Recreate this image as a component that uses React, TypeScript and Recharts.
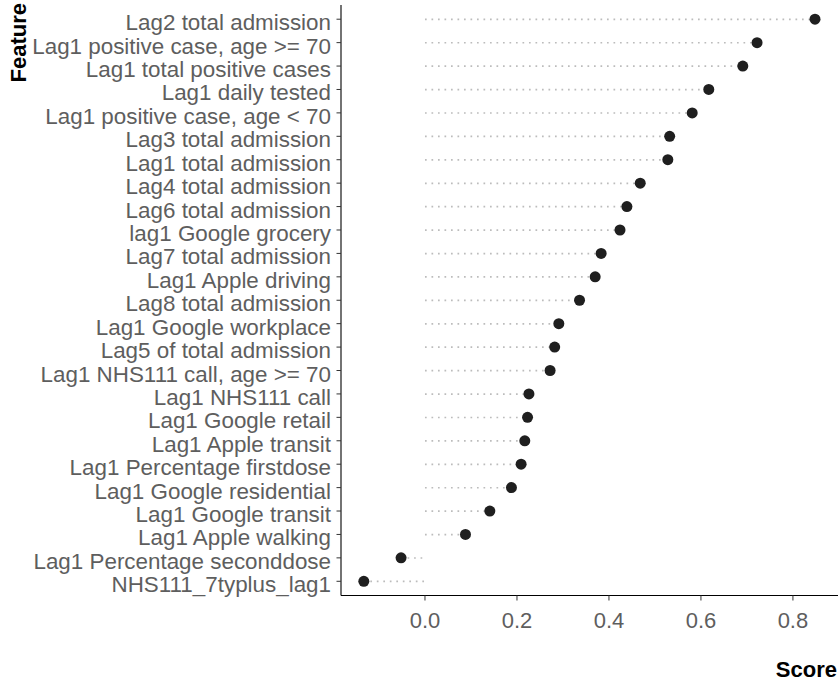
import React from "react";
import { ComposedChart, Bar, Line, XAxis, YAxis, Label } from "recharts";

const features = [
  "Lag2 total admission",
  "Lag1 positive case, age >= 70",
  "Lag1 total positive cases",
  "Lag1 daily tested",
  "Lag1 positive case, age < 70",
  "Lag3 total admission",
  "Lag1 total admission",
  "Lag4 total admission",
  "Lag6 total admission",
  "lag1 Google grocery",
  "Lag7 total admission",
  "Lag1 Apple driving",
  "Lag8 total admission",
  "Lag1 Google workplace",
  "Lag5 of total admission",
  "Lag1 NHS111 call, age >= 70",
  "Lag1 NHS111 call",
  "Lag1 Google retail",
  "Lag1 Apple transit",
  "Lag1 Percentage firstdose",
  "Lag1 Google residential",
  "Lag1 Google transit",
  "Lag1 Apple walking",
  "Lag1 Percentage seconddose",
  "NHS111_7typlus_lag1",
];

const scores = [
  0.848, 0.722, 0.691, 0.617, 0.581, 0.532, 0.528, 0.468, 0.439, 0.424, 0.383,
  0.37, 0.336, 0.291, 0.282, 0.272, 0.226, 0.223, 0.217, 0.209, 0.188, 0.141,
  0.088, -0.052, -0.133,
];

const xTicks = [0, 0.2, 0.4, 0.6, 0.8];

const data = features.map((feature, i) => ({ feature, score: scores[i] }));

const FONT = "'Liberation Sans', Arial, sans-serif";
const TEXT_GREY = "#5e5e5e";

// dotted segment from 0 to the score, drawn through the bar's geometry
const DottedStem = (props: any) => {
  const { x, y, width, height } = props;
  if (x == null || width == null) return null;
  const x1 = Math.min(x, x + width);
  const x2 = Math.max(x, x + width);
  const cy = y + height / 2;
  return (
    <line
      x1={x1}
      x2={x2}
      y1={cy}
      y2={cy}
      stroke="#bcbcbc"
      strokeWidth={1.7}
      strokeDasharray="1.7 4.8"
    />
  );
};

const FeatureTick = (props: any) => {
  const { x, y, payload } = props;
  return (
    <text
      x={x}
      y={y}
      dy={11}
      textAnchor="end"
      fill={TEXT_GREY}
      fontSize={22.4}
      fontFamily={FONT}
    >
      {payload.value}
    </text>
  );
};

const ScoreTick = (props: any) => {
  const { x, y, payload } = props;
  return (
    <text
      x={x}
      y={y}
      dy={25.5}
      textAnchor="middle"
      fill={TEXT_GREY}
      fontSize={22}
      fontFamily={FONT}
    >
      {Number(payload.value).toFixed(1)}
    </text>
  );
};

export default function App() {
  return (
    <div style={{ position: "absolute", left: 0, top: 0, width: 838, height: 683, background: "#fff" }}>
      <ComposedChart
        width={838}
        height={683}
        layout="vertical"
        data={data}
        margin={{ top: 5, right: 0, bottom: 0, left: 0 }}
      >
        <XAxis
          type="number"
          dataKey="score"
          domain={[-0.1826, 0.898]}
          ticks={xTicks}
          allowDataOverflow
          height={87.5}
          tickSize={5}
          tickMargin={2}
          tick={<ScoreTick />}
          tickLine={{ stroke: "#333" }}
          axisLine={{ stroke: "#000", strokeWidth: 1.1 }}
        >
          <Label
            content={(p: any) => {
              const vb = p.viewBox;
              return (
                <text
                  x={vb.x + vb.width - 1}
                  y={vb.y + vb.height - 6}
                  textAnchor="end"
                  fontSize={22}
                  fontWeight="bold"
                  fontFamily={FONT}
                  fill="#000"
                >
                  Score
                </text>
              );
            }}
          />
        </XAxis>
        <YAxis
          type="category"
          dataKey="feature"
          width={341}
          interval={0}
          padding={{ top: 2.5, bottom: 2.5 }}
          tickSize={4.5}
          tickMargin={5.5}
          tick={<FeatureTick />}
          tickLine={{ stroke: "#333" }}
          axisLine={{ stroke: "#000", strokeWidth: 1.1 }}
        >
          <Label
            content={() => (
              <text
                x={25.5}
                y={3}
                transform="rotate(-90, 25.5, 3)"
                textAnchor="end"
                fontSize={22}
                fontWeight="bold"
                fontFamily={FONT}
                fill="#000"
              >
                Feature
              </text>
            )}
          />
        </YAxis>
        <Bar dataKey="score" shape={<DottedStem />} isAnimationActive={false} />
        <Line
          dataKey="score"
          stroke="none"
          dot={{ r: 5.5, fill: "#1f1f1f", stroke: "none" }}
          activeDot={false}
          isAnimationActive={false}
        />
      </ComposedChart>
    </div>
  );
}
